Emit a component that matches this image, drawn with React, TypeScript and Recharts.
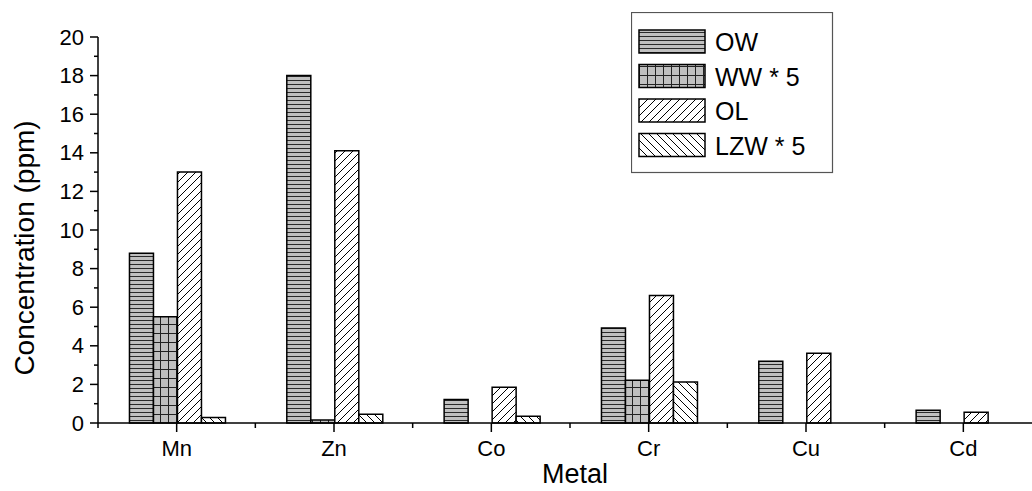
import React from "react";
import { Bar, BarChart, Label, Legend, XAxis, YAxis } from "recharts";

// metal concentrations (ppm)
const metals = ["Mn", "Zn", "Co", "Cr", "Cu", "Cd"];
const ow = [8.8, 18.0, 1.22, 4.92, 3.2, 0.66];
const ww5 = [5.5, 0.15, null, 2.22, null, null];
const ol = [13.0, 14.1, 1.85, 6.6, 3.62, 0.56];
const lzw5 = [0.28, 0.45, 0.35, 2.12, null, null];
const yTicks = [0, 1, 2, 3, 4, 5, 6, 7, 8, 9, 10, 11, 12, 13, 14, 15, 16, 17, 18, 19, 20];

const seriesKeys = ["ow", "ww5", "ol", "lzw5"];
const seriesNames = ["OW", "WW * 5", "OL", "LZW * 5"];
const seriesPatterns = ["patOW", "patWW", "patOL", "patLZW"];

const data = metals.map((m, i) => ({
  metal: m,
  ow: ow[i],
  ww5: ww5[i],
  ol: ol[i],
  lzw5: lzw5[i],
}));

const FONT = "'Liberation Sans', Arial, sans-serif";
const CHART_W = 1042;
const CHART_H = 491;
const Y_AXIS_W = 98;
const BAND = (CHART_W - Y_AXIS_W) / metals.length;

function YTick(props: any) {
  const { x, y, payload } = props;
  const major = payload.value % 2 === 0;
  return (
    <g>
      <line x1={x - (major ? 8 : 4)} x2={x} y1={y} y2={y} stroke="#000" strokeWidth={1.5} />
      {major && (
        <text x={x - 14} y={y} textAnchor="end" dominantBaseline="central" fontSize={22} fontFamily={FONT} fill="#000">
          {payload.value}
        </text>
      )}
    </g>
  );
}

function XTick(props: any) {
  const { x, y, payload } = props;
  return (
    <g>
      <line x1={x} x2={x} y1={y} y2={y + 9} stroke="#000" strokeWidth={1.5} />
      <line x1={x - BAND / 2} x2={x - BAND / 2} y1={y} y2={y + 5} stroke="#000" strokeWidth={1.5} />
      <text x={x} y={y + 25} textAnchor="middle" dominantBaseline="central" fontSize={22} fontFamily={FONT} fill="#000">
        {payload.value}
      </text>
    </g>
  );
}

function LegendBox(props: any) {
  const payload = [...(props.payload || [])].sort(
    (a: any, b: any) => seriesKeys.indexOf(a.dataKey) - seriesKeys.indexOf(b.dataKey)
  );
  return (
    <svg width={203} height={162} style={{ display: "block" }}>
      <rect x={0.5} y={0.5} width={201} height={160} fill="#fff" stroke="#555" strokeWidth={1.2} />
      {payload.map((p: any, i: number) => {
        const idx = seriesKeys.indexOf(p.dataKey);
        const top = 18 + i * 34.5;
        return (
          <g key={p.dataKey}>
            <rect x={8} y={top} width={66} height={23} fill={`url(#${seriesPatterns[idx]})`} stroke="#000" strokeWidth={1.5} />
            <text x={84} y={top + 12} dominantBaseline="central" fontSize={25} fontFamily={FONT} fill="#000">
              {seriesNames[idx]}
            </text>
          </g>
        );
      })}
    </svg>
  );
}

function PatternDefs() {
  return (
    <svg width={0} height={0} style={{ position: "absolute" }}>
      <defs>
        <pattern id="patOW" patternUnits="userSpaceOnUse" width={8} height={4}>
          <rect width={8} height={4} fill="#c0c0c0" />
          <line x1={0} x2={8} y1={0.5} y2={0.5} stroke="#2a2a2a" strokeWidth={1} />
        </pattern>
        <pattern id="patWW" patternUnits="userSpaceOnUse" width={8} height={9}>
          <rect width={8} height={9} fill="#c0c0c0" />
          <line x1={0.5} x2={0.5} y1={0} y2={9} stroke="#222" strokeWidth={1} />
          <line x1={0} x2={8} y1={0.5} y2={0.5} stroke="#222" strokeWidth={1} />
        </pattern>
        <pattern id="patOL" patternUnits="userSpaceOnUse" width={8} height={8}>
          <rect width={8} height={8} fill="#fff" />
          <path d="M0,8 L8,0 M-2,2 L2,-2 M6,10 L10,6" stroke="#000" strokeWidth={1} />
        </pattern>
        <pattern id="patLZW" patternUnits="userSpaceOnUse" width={8} height={8}>
          <rect width={8} height={8} fill="#fff" />
          <path d="M0,0 L8,8 M-2,6 L2,10 M6,-2 L10,2" stroke="#000" strokeWidth={1} />
        </pattern>
      </defs>
    </svg>
  );
}

export default function App() {
  return (
    <div
      style={{
        position: "absolute",
        left: 0,
        top: 0,
        width: 1032,
        height: 491,
        overflow: "hidden",
        background: "#fff",
        fontFamily: FONT,
      }}
    >
      <PatternDefs />
      <BarChart
        width={CHART_W}
        height={CHART_H}
        data={data}
        margin={{ top: 37, right: 0, bottom: 0, left: 0 }}
        barCategoryGap="20%"
        barGap={0}
      >
        <XAxis
          dataKey="metal"
          height={68}
          interval={0}
          tickSize={0}
          tickMargin={0}
          tickLine={false}
          tick={<XTick />}
          axisLine={{ stroke: "#000", strokeWidth: 1.5 }}
        >
          <Label
            content={() => (
              <text x={575} y={474} textAnchor="middle" dominantBaseline="central" fontSize={27} fontFamily={FONT} fill="#000">
                Metal
              </text>
            )}
          />
        </XAxis>
        <YAxis
          type="number"
          domain={[0, 20]}
          ticks={yTicks}
          interval={0}
          width={Y_AXIS_W}
          tickSize={0}
          tickMargin={0}
          tickLine={false}
          tick={<YTick />}
          axisLine={{ stroke: "#000", strokeWidth: 1.5 }}
        >
          <Label
            content={() => (
              <text
                x={24}
                y={248}
                transform="rotate(-90 24 248)"
                textAnchor="middle"
                dominantBaseline="central"
                fontSize={28}
                fontFamily={FONT}
                fill="#000"
              >
                Concentration (ppm)
              </text>
            )}
          />
        </YAxis>
        <Legend
          layout="horizontal"
          verticalAlign="middle"
          align="center"
          content={<LegendBox />}
          wrapperStyle={{ left: 631, top: 12, width: 203, height: 162 }}
        />
        {seriesKeys.map((k, i) => (
          <Bar
            key={k}
            dataKey={k}
            name={seriesNames[i]}
            fill={`url(#${seriesPatterns[i]})`}
            stroke="#000"
            strokeWidth={1.5}
            isAnimationActive={false}
          />
        ))}
      </BarChart>
    </div>
  );
}
